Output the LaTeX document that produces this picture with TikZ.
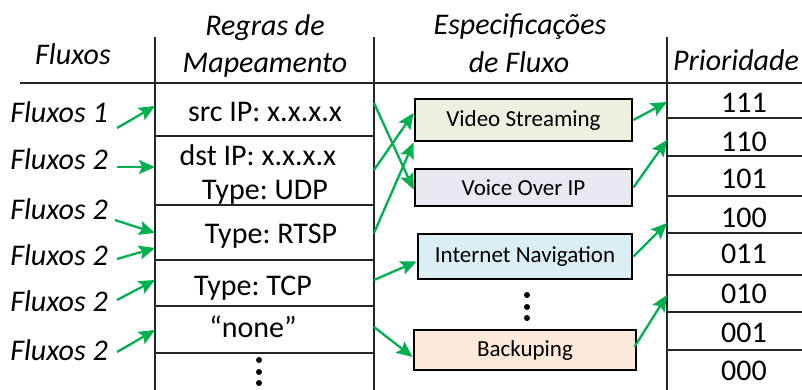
\documentclass[tikz,border=0pt]{standalone}
\usepackage{fontspec}
\setmainfont{Carlito}
\frenchspacing
\usetikzlibrary{arrows.meta}
\definecolor{flowgreen}{RGB}{0,176,80}
\definecolor{videofill}{RGB}{235,241,222}
\definecolor{voicefill}{RGB}{233,231,240}
\definecolor{netfill}{RGB}{219,238,244}
\definecolor{backfill}{RGB}{253,233,217}

\begin{document}
\begin{tikzpicture}[x=1pt,y=-1pt,
    txt/.style={font=\fontsize{30}{36}\selectfont, anchor=base, inner sep=0pt},
    head/.style={txt, font=\fontsize{30}{36}\selectfont\itshape},
    flow/.style={head, anchor=base east},
    spec/.style={draw, line width=2.8pt, inner sep=0pt, font=\fontsize{23}{28}\selectfont},
    grid/.style={line width=1.4pt, black!85},
    link/.style={flowgreen, line width=2.3pt, -{Stealth[length=16pt,width=14pt,inset=3pt]}}]
        \useasboundingbox (0,0) rectangle (802,390);
        % table
        \draw [grid] (20,83) to (802,83);
        \draw [grid] (155,37) to (155,390);
        \draw [grid] (374,37) to (374,390);
        \draw [grid] (667,37) to (667,390);
        \foreach \y in {136,205,260,306,353}
          \draw [grid] (155,\y) to (374,\y);
        \foreach \y in {118,156,196,233,275,312,350}
          \draw [grid] (667,\y) to (802,\y);
        % headers
        \node [head] (hflux) at (73,65) {Fluxos};
        \node [head] (hrule) at (265,36) {Regras de};
        \node [head] (hrule2) at (265,73) {Mapeamento};
        \node [head] (hspec) at (520,35) {Especificações};
        \node [head] (hspec2) at (519,73) {de Fluxo};
        \node [head] (hprio) at (736,71) {Prioridade};
        % flows
        \node [flow] (f1) at (108,123) {Fluxos 1};
        \node [flow] (f2) at (108,170) {Fluxos 2};
        \node [flow] (f3) at (108,219) {Fluxos 2};
        \node [flow] (f4) at (108,265) {Fluxos 2};
        \node [flow] (f5) at (108,311) {Fluxos 2};
        \node [flow] (f6) at (108,360) {Fluxos 2};
        % mapping rules
        \node [txt] (src) at (265,122) {src IP: x.x.x.x};
        \node [txt] (dst) at (258,165) {dst IP: x.x.x.x};
        \node [txt] (udp) at (265,199) {Type: UDP};
        \node [txt] (rtsp) at (271,243) {Type: RTSP};
        \node [txt] (tcp) at (253,295) {Type: TCP};
        \node [txt] (none) at (253,337) {“none”};
        \foreach \y in {360,372,383}
          \fill (259,\y) circle (3);
        % flow specifications
        \node [spec, fill=videofill, minimum width=217pt, minimum height=42pt] (video) at (523.5,120) {Video Streaming};
        \node [spec, fill=voicefill, minimum width=217pt, minimum height=37pt] (voice) at (523.5,187.5) {Voice Over IP};
        \node [spec, fill=netfill, minimum width=214pt, minimum height=45pt] (inet) at (525,256.5) {Internet Navigation};
        \node [spec, fill=backfill, minimum width=222pt, minimum height=40pt] (backup) at (525,350) {Backuping};
        \foreach \y in {295,307,318}
          \fill (527,\y) circle (3);
        % priorities
        \foreach \v/\y in {111/113,110/152,101/189,100/227,011/263,010/303,001/342,000/380}
          \node [txt] (p\v) at (744,\y) {\v};
        % entry points on the column lines
        \coordinate (in1) at (155,106);
        \coordinate (in2) at (155,167);
        \coordinate (in3) at (155,233);
        \coordinate (in4) at (155,248);
        \coordinate (in5) at (155,280);
        \coordinate (in6) at (155,330);
        \coordinate (out1) at (374,103);
        \coordinate (out2) at (374,170);
        \coordinate (out3) at (374,233);
        \coordinate (out4) at (374,280);
        \coordinate (out5) at (374,327);
        \coordinate (q1) at (667,102);
        \coordinate (q2) at (667,140);
        \coordinate (q3) at (667,223);
        \coordinate (q4) at (667,295);
        % arrows
        \draw [link] ([shift={(9,5)}]f1.base east) to (in1);
        \draw [link] ([shift={(9,-3)}]f2.base east) to (in2);
        \draw [link] ([shift={(7,1)}]f3.base east) to (in3);
        \draw [link] ([shift={(9,-6)}]f4.base east) to (in4);
        \draw [link] ([shift={(9,-11)}]f5.base east) to (in5);
        \draw [link] ([shift={(9,-8)}]f6.base east) to (in6);
        \draw [link] (out1) to ([shift={(0,2)}]voice.west);
        \draw [link] (out2) to ([shift={(0,-7)}]video.west);
        \draw [link] (out3) to (video.south west);
        \draw [link] (out4) to ([shift={(0,5)}]inet.west);
        \draw [link] (out5) to ([shift={(0,7)}]backup.west);
        \draw [link] (video.east) to (q1);
        \draw [link] (voice.east) to (q2);
        \draw [link] (inet.east) to (q3);
        \draw [link] ([shift={(-3,-3)}]backup.east) to (q4);
      \end{tikzpicture}
\end{document}
